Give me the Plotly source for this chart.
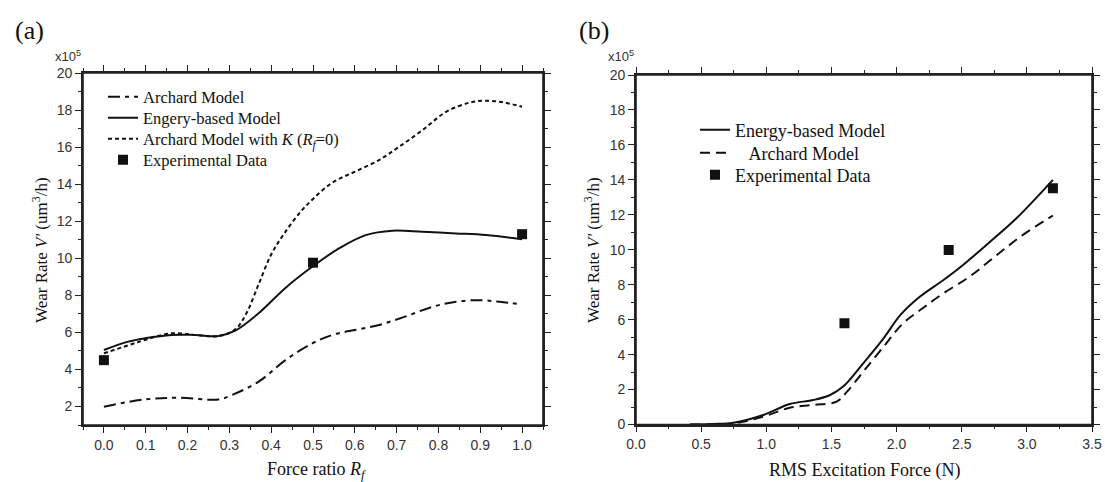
import plotly.graph_objects as go

# ---------------- Panel (a) data ----------------
rf_archard = [0.0, 0.098, 0.178, 0.274, 0.306, 0.37, 0.434, 0.498, 0.546, 0.60, 0.658, 0.72, 0.786, 0.842, 0.898, 0.946, 1.0]
v_archard = [1.99, 2.38, 2.47, 2.38, 2.62, 3.34, 4.5, 5.4, 5.86, 6.13, 6.4, 6.85, 7.38, 7.65, 7.74, 7.65, 7.51]

rf_energy = [0.0, 0.058, 0.098, 0.162, 0.218, 0.274, 0.314, 0.37, 0.434, 0.498, 0.562, 0.626, 0.69, 0.762, 0.842, 0.914, 1.0]
v_energy = [5.05, 5.5, 5.68, 5.86, 5.86, 5.8, 6.09, 7.03, 8.4, 9.54, 10.53, 11.25, 11.49, 11.43, 11.34, 11.25, 11.02]

rf_archk = [0.0, 0.058, 0.098, 0.162, 0.218, 0.274, 0.314, 0.34, 0.37, 0.40, 0.43, 0.47, 0.50, 0.546, 0.60, 0.658, 0.706, 0.762, 0.818, 0.874, 0.906, 0.946, 1.0]
v_archk = [4.87, 5.3, 5.59, 5.95, 5.86, 5.8, 6.16, 7.0, 8.6, 10.2, 11.3, 12.5, 13.2, 14.08, 14.67, 15.3, 16.02, 16.92, 17.9, 18.4, 18.5, 18.45, 18.18]

rf_exp = [0.0, 0.5, 1.0]
v_exp_a = [4.5, 9.76, 11.3]

# ---------------- Panel (b) data ----------------
f_energy = [0.414, 0.59, 0.747, 0.977, 1.18, 1.36, 1.49, 1.59, 1.744, 1.9, 2.03, 2.18, 2.36, 2.51, 2.72, 2.92, 3.2]
vb_energy = [0.0, 0.03, 0.1, 0.54, 1.17, 1.4, 1.69, 2.17, 3.5, 4.93, 6.27, 7.32, 8.27, 9.13, 10.47, 11.8, 14.0]

f_archard = [0.414, 0.75, 0.977, 1.18, 1.36, 1.54, 1.62, 1.744, 1.9, 2.05, 2.2, 2.36, 2.56, 2.77, 2.97, 3.2]
vb_archard = [0.0, 0.07, 0.45, 0.96, 1.12, 1.31, 1.88, 3.02, 4.45, 5.79, 6.65, 7.51, 8.46, 9.7, 10.85, 11.96]

f_exp = [1.6, 2.4, 3.2]
vb_exp = [5.79, 9.99, 13.52]

# ---------------- Style ----------------
INK = "#111111"
AX = "#222222"
SERIF = "Liberation Serif, Times New Roman, serif"
SANS = "Liberation Sans, Arial, sans-serif"
W, H = 1105, 482

fig = go.Figure()

# Panel (a)
fig.add_trace(go.Scatter(x=rf_archard, y=v_archard, mode="lines", name="Archard Model",
                         line=dict(color=INK, width=2, dash="12px,5px,4px,5px", shape="spline"),
                         xaxis="x", yaxis="y", legend="legend"))
fig.add_trace(go.Scatter(x=rf_energy, y=v_energy, mode="lines", name="Engery-based Model",
                         line=dict(color=INK, width=2, shape="spline"),
                         xaxis="x", yaxis="y", legend="legend2"))
fig.add_trace(go.Scatter(x=rf_archk, y=v_archk, mode="lines",
                         name="Archard Model with <i>K</i> (<i>R<sub>f</sub></i>=0)",
                         line=dict(color=INK, width=2, dash="4px,3px", shape="spline"),
                         xaxis="x", yaxis="y", legend="legend3"))
fig.add_trace(go.Scatter(x=rf_exp, y=v_exp_a, mode="markers", name="Experimental Data",
                         marker=dict(symbol="square", size=10, color=INK),
                         xaxis="x", yaxis="y", legend="legend4"))

# Panel (b)
fig.add_trace(go.Scatter(x=f_energy, y=vb_energy, mode="lines", name="Energy-based Model",
                         line=dict(color=INK, width=2, shape="spline"),
                         xaxis="x2", yaxis="y2", legend="legend5"))
fig.add_trace(go.Scatter(x=f_archard, y=vb_archard, mode="lines",
                         name="\u00a0\u00a0\u00a0Archard Model",
                         line=dict(color=INK, width=2, dash="10px,6px", shape="spline"),
                         xaxis="x2", yaxis="y2", legend="legend6"))
fig.add_trace(go.Scatter(x=f_exp, y=vb_exp, mode="markers", name="Experimental Data",
                         marker=dict(symbol="square", size=10, color=INK),
                         xaxis="x2", yaxis="y2", legend="legend7"))

dom_ax = [83 / W, 543 / W]
dom_ay = [(H - 425) / H, (H - 73) / H]
dom_bx = [636 / W, 1092 / W]
dom_by = [(H - 424.5) / H, (H - 75) / H]

tickfont = dict(family=SANS, size=14, color="#333333")

def axis(rng, dtick, mdtick, fmt=None):
    d = dict(range=rng, tickmode="linear", tick0=0, dtick=dtick, automargin=False,
             ticks="outside", ticklen=6, tickwidth=1.3, tickcolor=AX,
             showline=True, mirror="ticks", linecolor=AX, linewidth=1.6,
             showgrid=False, zeroline=False, tickfont=tickfont, fixedrange=True,
             minor=dict(tickmode="linear", tick0=0, dtick=mdtick, ticks="outside",
                        ticklen=3, tickwidth=1.2, tickcolor=AX, showgrid=False))
    if fmt:
        d["tickformat"] = fmt
    return d

def leg(xpx, ypx, size):
    return dict(x=xpx / W, y=(H - ypx) / H, xanchor="left", yanchor="middle",
                bgcolor="rgba(0,0,0,0)", borderwidth=0,
                font=dict(family=SERIF, size=size, color=INK))

fig.update_layout(
    width=W, height=H, autosize=False,
    margin=dict(l=0, r=0, t=0, b=0, autoexpand=False),
    paper_bgcolor="white", plot_bgcolor="white",
    xaxis=dict(domain=dom_ax, anchor="y", **axis([-0.05, 1.05], 0.1, 0.05, fmt=".1f")),
    yaxis=dict(domain=dom_ay, anchor="x", **axis([1, 20], 2, 1)),
    xaxis2=dict(domain=dom_bx, anchor="y2", **axis([0, 3.5], 0.5, 0.25, fmt=".1f")),
    yaxis2=dict(domain=dom_by, anchor="x2", **axis([0, 20], 2, 1)),
    legend=leg(103, 97, 16.5),
    legend2=leg(103, 118, 16.5),
    legend3=leg(103, 139, 16.5),
    legend4=leg(103, 160, 16.5),
    legend5=leg(695, 130, 18),
    legend6=leg(695, 153, 18),
    legend7=leg(695, 175, 18),
    showlegend=True,
)

# plot frames: a full box around each panel, placed in paper units at the panel domains
for dx, dy in [(dom_ax, dom_ay), (dom_bx, dom_by)]:
    fig.add_shape(type="rect", xref="paper", yref="paper",
                  x0=dx[0], x1=dx[1], y0=dy[0], y1=dy[1],
                  line=dict(color=AX, width=1.6), fillcolor="rgba(0,0,0,0)", layer="above")

ya_title = "Wear Rate <i>V'</i> (um<sup>3</sup>/h)"
annots = [
    dict(text="(a)", x=29, y=30, font=dict(family=SERIF, size=26, color=INK)),
    dict(text="(b)", x=594, y=30, font=dict(family=SERIF, size=26, color=INK)),
    dict(text="x10<sup>5</sup>", x=68, y=56, font=dict(family=SANS, size=13, color="#333333")),
    dict(text="x10<sup>5</sup>", x=621, y=56, font=dict(family=SANS, size=13, color="#333333")),
    dict(text="Force ratio <i>R<sub>f</sub></i>", x=316, y=470, font=dict(family=SERIF, size=18, color=INK)),
    dict(text="RMS Excitation Force (N)", x=864, y=470, font=dict(family=SERIF, size=18, color=INK)),
    dict(text=ya_title, x=40, y=250, textangle=-90, font=dict(family=SERIF, size=17, color=INK)),
    dict(text=ya_title, x=592, y=250, textangle=-90, font=dict(family=SERIF, size=17, color=INK)),
]
for a in annots:
    a["x"] = a["x"] / W
    a["y"] = (H - a["y"]) / H
    fig.add_annotation(xref="paper", yref="paper", showarrow=False,
                       xanchor="center", yanchor="middle", **a)

fig.write_html("out.html")
